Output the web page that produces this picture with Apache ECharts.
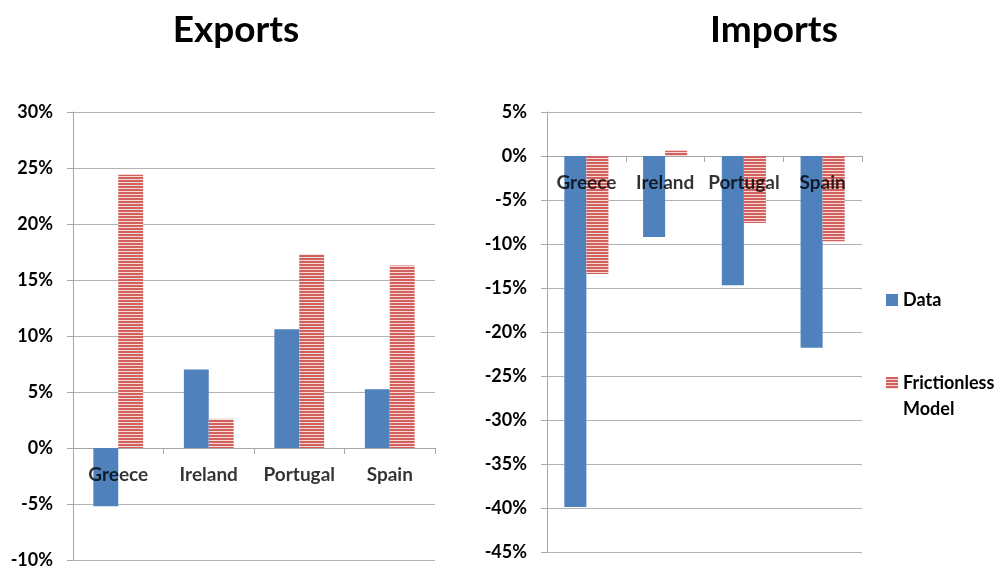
<!DOCTYPE html>
<html>
<head>
<meta charset="utf-8">
<script src="https://cdn.jsdelivr.net/npm/echarts@6/dist/echarts.min.js"></script>
<style>
html,body{margin:0;padding:0;background:#fff;}
#chart{width:1001px;height:568px;}
</style>
</head>
<body>
<div id="chart"></div>
<script>
const categories = ['Greece', 'Ireland', 'Portugal', 'Spain'];
const exportsData = [-5.2, 7.0, 10.6, 5.25];
const exportsModel = [24.4, 2.6, 17.3, 16.3];
const importsData = [-39.9, -9.2, -14.7, -21.8];
const importsModel = [-13.4, 0.6, -7.6, -9.7];
const seriesNames = ['Data', 'Frictionless Model'];
const titles = ['Exports', 'Imports'];

const FONT = 'Lato, Calibri, "Liberation Sans", sans-serif';
const BLUE = '#4f81bd';

function stripePattern() {
  const c = document.createElement('canvas');
  c.width = 4; c.height = 3;
  const ctx = c.getContext('2d');
  ctx.fillStyle = '#f6dada';
  ctx.fillRect(0, 0, 4, 3);
  ctx.fillStyle = '#d2605d';
  ctx.fillRect(0, 0, 4, 2);
  return { image: c, repeat: 'repeat' };
}
const stripes = stripePattern();

const labelStyle = { color: '#000', fontFamily: FONT, fontWeight: 'bold', fontSize: 18 };

function yAxis(gridIndex, min, max) {
  return {
    type: 'value', gridIndex: gridIndex, min: min, max: max, interval: 5,
    axisLine: { show: true, lineStyle: { color: '#a6a6a6', width: 1 } },
    axisTick: { show: true, length: 6, lineStyle: { color: '#a6a6a6' } },
    splitLine: { show: true, lineStyle: { color: '#b3b3b3', width: 1 } },
    axisLabel: Object.assign({ margin: 20, formatter: '{value}%' }, labelStyle)
  };
}
function xAxis(gridIndex) {
  return {
    type: 'category', gridIndex: gridIndex, data: categories,
    axisLine: { show: true, onZero: true, lineStyle: { color: '#a6a6a6', width: 1 } },
    axisTick: { show: true, length: 6, interval: 0, lineStyle: { color: '#a6a6a6' } },
    axisLabel: { show: false }
  };
}
function bar(name, data, idx, color, gap) {
  return {
    name: name, type: 'bar', xAxisIndex: idx, yAxisIndex: idx, data: data,
    barGap: '0%', barCategoryGap: gap,
    itemStyle: { color: color },
    emphasis: { disabled: true }
  };
}
function catLabels(idx) {
  return {
    name: 'labels' + idx, type: 'scatter', xAxisIndex: idx, yAxisIndex: idx,
    data: categories.map(function (c) { return [c, 0]; }),
    symbolSize: 0, z: 20, silent: true,
    label: Object.assign({ show: true, position: 'bottom', distance: 17,
      formatter: function (p) { return p.value[0]; } }, labelStyle, { fontSize: 19 }),
    emphasis: { disabled: true }
  };
}

const chart = echarts.init(document.getElementById('chart'), null, { renderer: 'canvas' });
chart.setOption({
  animation: false,
  backgroundColor: '#fff',
  title: [
    { text: titles[0], left: 231, top: 7, textAlign: 'center',
      textStyle: { fontFamily: FONT, fontWeight: 'bold', fontSize: 37, color: '#000' } },
    { text: titles[1], left: 769, top: 7, textAlign: 'center',
      textStyle: { fontFamily: FONT, fontWeight: 'bold', fontSize: 37, color: '#000' } }
  ],
  legend: [
    { data: [seriesNames[0]], orient: 'vertical', left: 881, top: 285,
      icon: 'rect', itemWidth: 12, itemHeight: 12, itemGap: 8,
      textStyle: Object.assign({ lineHeight: 20 }, labelStyle) },
    { data: [seriesNames[1]], orient: 'vertical', left: 881, top: 339,
      icon: 'rect', itemWidth: 12, itemHeight: 12,
      formatter: function (n) { return '\n' + n.replace(' ', '\n'); },
      textStyle: Object.assign({ lineHeight: 26 }, labelStyle) }
  ],
  grid: [
    { left: 73, right: 566, top: 112, bottom: 8, containLabel: false, outerBoundsMode: 'none' },
    { left: 547, right: 139, top: 112, bottom: 16, containLabel: false, outerBoundsMode: 'none' }
  ],
  xAxis: [xAxis(0), xAxis(1)],
  yAxis: [yAxis(0, -10, 30), yAxis(1, -45, 5)],
  series: [
    bar(seriesNames[0], exportsData, 0, BLUE, '45%'),
    bar(seriesNames[1], exportsModel, 0, stripes, '45%'),
    bar(seriesNames[0], importsData, 1, BLUE, '44%'),
    bar(seriesNames[1], importsModel, 1, stripes, '44%'),
    catLabels(0),
    catLabels(1)
  ]
});
</script>
</body>
</html>
